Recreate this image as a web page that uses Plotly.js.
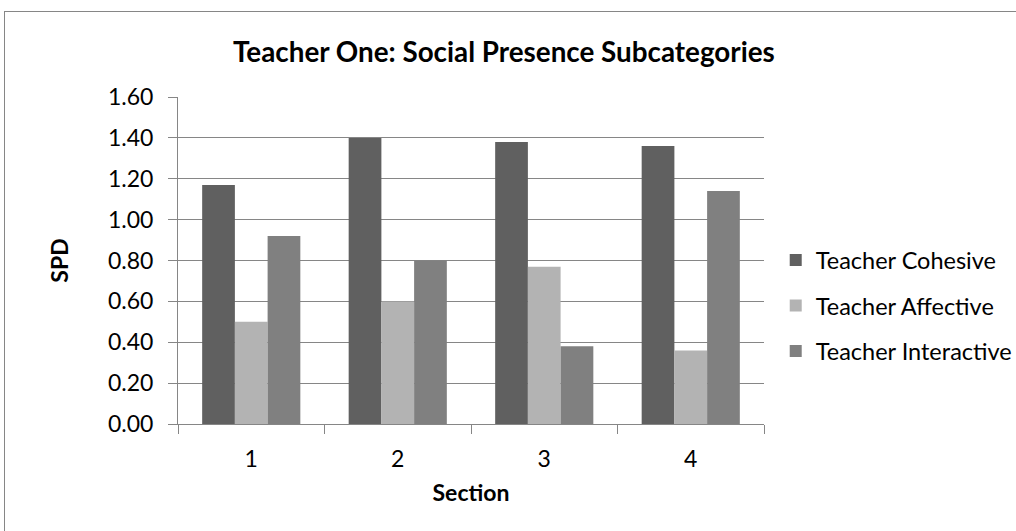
<!DOCTYPE html>
<html>
<head>
<meta charset="utf-8">
<script src="https://cdn.plot.ly/plotly-3.0.1.min.js"></script>
<style>
  html, body { margin: 0; padding: 0; background: #fff; overflow: hidden; }
  #wrap { position: relative; width: 1016px; height: 531px; }
  #chart { width: 1016px; height: 531px; }
  #frame { position: absolute; left: 4px; top: 11px; width: 1100px; height: 600px;
           border: 1px solid #868686; pointer-events: none; }
</style>
</head>
<body>
<div id="wrap">
  <div id="chart"></div>
  <div id="frame"></div>
</div>
<script>
const sections = ["1", "2", "3", "4"];
const seriesNames = ["Teacher Cohesive", "Teacher Affective", "Teacher Interactive"];
const cohesive = [1.17, 1.40, 1.38, 1.36];
const affective = [0.50, 0.60, 0.77, 0.36];
const interactive = [0.92, 0.80, 0.38, 1.14];
const colors = ["#606060", "#b3b3b3", "#808080"];
const yTicks = [0, 0.2, 0.4, 0.6, 0.8, 1.0, 1.2, 1.4, 1.6];

const seriesValues = [cohesive, affective, interactive];
const font = "Lato, 'Open Sans', sans-serif";

const traces = seriesValues.map((vals, i) => ({
  type: "bar",
  name: seriesNames[i],
  x: sections,
  y: vals,
  legendgroup: "g" + i,
  marker: { color: colors[i], line: { width: 0 } },
  hoverinfo: "x+y+name"
}));

const layout = {
  width: 1016,
  height: 531,
  paper_bgcolor: "#ffffff",
  plot_bgcolor: "#ffffff",
  margin: { l: 178, r: 252, t: 97, b: 107, autoexpand: false },
  barmode: "group",
  bargap: 0.33,
  bargroupgap: 0,
  font: { family: font, size: 24, color: "#000" },
  title: {
    text: "<b>Teacher One: Social Presence Subcategories</b>",
    font: { family: font, size: 27.8, color: "#000" },
    x: 0.496, xanchor: "center",
    y: 0.902, yanchor: "middle", yref: "container"
  },
  xaxis: {
    type: "category",
    title: { text: "<b>Section</b>", font: { family: font, size: 23 }, standoff: 14 },
    showline: true, linecolor: "#868686", linewidth: 1,
    ticks: "outside", tickson: "boundaries", ticklen: 9, tickcolor: "#868686",
    ticklabelstandoff: 14,
    showgrid: false, zeroline: false,
    tickfont: { family: font, size: 23 }
  },
  yaxis: {
    title: { text: "<b>SPD</b>", font: { family: font, size: 23 }, standoff: 32 },
    range: [0, 1.6],
    tickvals: yTicks,
    ticktext: yTicks.map(v => v.toFixed(2)),
    showline: true, linecolor: "#868686", linewidth: 1,
    ticks: "outside", ticklen: 9, tickcolor: "#868686",
    ticklabelstandoff: 10,
    showgrid: true, gridcolor: "#868686", gridwidth: 1,
    zeroline: false,
    tickfont: { family: font, size: 23 }
  },
  legend: {
    x: 1.02, xanchor: "left",
    y: 0.362, yanchor: "middle",
    traceorder: "grouped",
    tracegroupgap: 12,
    font: { family: font, size: 23.5 },
    itemwidth: 30,
    bgcolor: "rgba(0,0,0,0)"
  },
  showlegend: true
};

Plotly.newPlot("chart", traces, layout, { displayModeBar: false, staticPlot: true });
</script>
</body>
</html>
